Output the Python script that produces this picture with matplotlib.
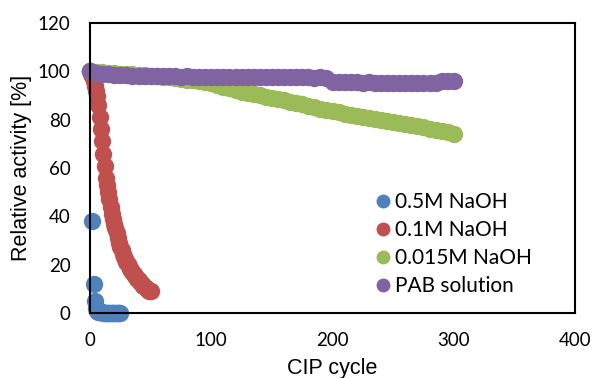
import matplotlib
matplotlib.use("Agg")
import matplotlib.pyplot as plt

# ---- data ----
blue_x = [0, 2, 3, 4, 5, 6, 7, 8, 9, 10, 11, 12, 13, 14, 15, 16, 17, 18, 19, 20, 21, 22, 23, 24, 25]
blue_y = [100, 38, 12, 5, 2, 1, 0.5, 0.4, 0.3, 0.3, 0.2, 0.2, 0.2, 0.1, 0.1, 0.1, 0.1, 0.1, 0.1, 0.1, 0.1, 0.1, 0.1, 0.1, 0.1]

red_x = list(range(0, 51))
red_y = [100, 99, 98, 96, 94, 92, 90, 86, 81, 76, 71, 66, 61, 56, 53, 50, 47, 44, 41, 39,
         37, 35, 33, 31, 29, 27.5, 26, 24.5, 23.3, 22.2, 21.2, 20.2, 19.3, 18.4, 17.6, 16.8,
         16.1, 15.4, 14.7, 14.1, 13.5, 12.9, 12.3, 11.8, 11.3, 10.8, 10.4, 10.0, 9.6, 9.2, 8.9]

green_x = list(range(0, 301, 5))
green_y = [100, 99.8, 99.6, 99.4, 99.3, 99.1, 98.9, 98.8, 98.5, 98.4, 98.2, 97.9, 97.7, 97.5,
           97.2, 97.0, 96.6, 96.4, 96.0, 95.7, 95.3, 94.5, 93.6, 92.9, 92.2, 91.6, 91.1, 90.7,
           90.3, 89.5, 88.9, 88.5, 88.0, 87.4, 86.9, 86.3, 85.7, 85.2, 84.6, 84.0, 83.6, 83.1,
           82.5, 82.0, 81.6, 81.1, 80.7, 80.3, 79.9, 79.5, 79.1, 78.7, 78.3, 77.8, 77.3, 76.9,
           76.3, 75.7, 75.2, 74.7, 74.2]

purple_x = list(range(0, 301, 5))
purple_y = [100, 99.2, 98.9, 98.7, 98.5, 98.4, 98.3, 98.2, 98.2, 98.1, 98.0, 98.0, 97.9, 98.0,
            97.9, 97.8, 97.9, 97.8, 97.7, 97.8, 97.7, 97.6, 97.7, 97.8, 97.7, 97.6, 97.7, 97.6,
            97.5, 97.6, 97.7, 97.6, 97.5, 97.6, 97.5, 97.6, 97.5, 97.4, 97.5, 97.4, 95.6, 95.5,
            95.4, 95.5, 95.4, 95.3, 95.4, 95.3, 95.2, 95.3, 95.2, 95.3, 95.2, 95.1, 95.2, 95.1,
            95.0, 95.2, 96.0, 96.2, 96.0]

labels = ["0.5M NaOH", "0.1M NaOH", "0.015M NaOH", "PAB solution"]
colors = ["#4F81BD", "#C0504D", "#9BBB59", "#8064A2"]

x_ticks = [0, 100, 200, 300, 400]
y_ticks = [0, 20, 40, 60, 80, 100, 120]

fig = plt.figure(figsize=(5.95, 3.78), dpi=100)
ax = fig.add_axes([90/595, 1-313/378, (575-90)/595, (313-23)/378])

ms = 12.5
series = [(blue_x, blue_y), (red_x, red_y), (green_x, green_y), (purple_x, purple_y)]
for (xs, ys), lab, c in zip(series, labels, colors):
    ax.plot(xs, ys, linestyle="none", marker="o", markersize=ms, color=c,
            markeredgewidth=0, label=lab, clip_on=False)

ax.set_xlim(0, 400)
ax.set_ylim(0, 120)
ax.set_xticks(x_ticks)
ax.set_yticks(y_ticks)
tick_font = "Lato"
ax.tick_params(length=0, pad=14, labelsize=13.5)
for t in ax.get_xticklabels() + ax.get_yticklabels():
    t.set_fontfamily(tick_font)
for s in ax.spines.values():
    s.set_linewidth(1.5)
    s.set_color("black")

ax.set_xlabel("CIP cycle", fontsize=15.5, family="Liberation Sans", labelpad=6)
ax.set_ylabel("Relative activity [%]", fontsize=15.5, family="Liberation Sans", labelpad=4)

leg = ax.legend(loc="upper left", bbox_to_anchor=(0.565, 0.445), frameon=False,
                prop={"family": tick_font, "size": 15}, handletextpad=0.1,
                handlelength=1.0, labelspacing=0.38, borderaxespad=0, markerscale=0.8)

fig.savefig("out.png", dpi=100)
